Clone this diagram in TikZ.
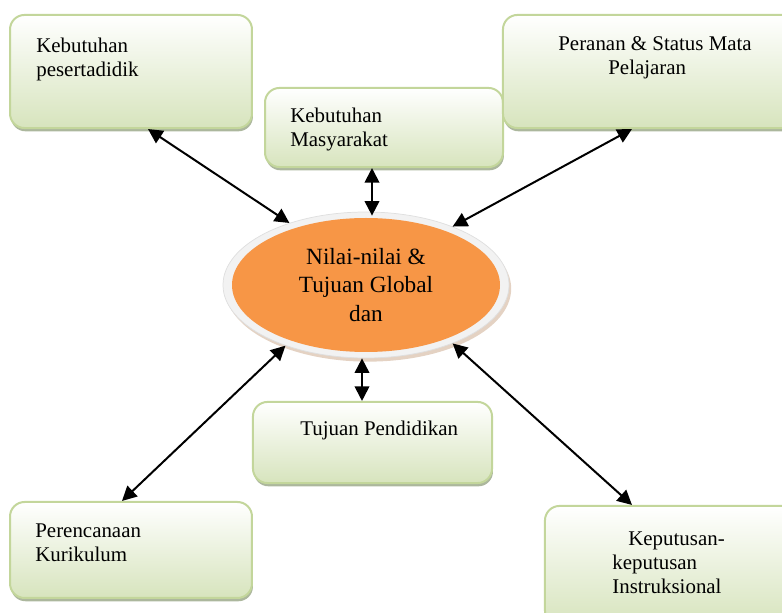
\documentclass[tikz,border=0pt]{standalone}
\usepackage{fontspec}
\setmainfont{Liberation Serif}
\usetikzlibrary{shapes.geometric}
\usetikzlibrary{shadows}
\usetikzlibrary{arrows.meta}

\definecolor{hijau}{HTML}{C3D69B}
\definecolor{hijaumuda}{HTML}{D7E4BD}
\definecolor{bayang}{HTML}{97A585}
\definecolor{oranye}{HTML}{F79646}
\definecolor{abu}{HTML}{F2F2F2}
\definecolor{coklat}{HTML}{C9A688}

\tikzset{
	kotak/.style={draw=hijau, line width=1.1pt, rounded corners=8pt, top color=white, bottom color=hijaumuda,
		drop shadow={fill=bayang, opacity=0.8, shadow xshift=0.5pt, shadow yshift=-1.8pt}, inner sep=0pt},
	teks/.style={font=\fontsize{11.5}{13.2}\selectfont, align=left, anchor=north west, inner sep=0pt},
	elips/.style={ellipse, minimum width=157.3pt, minimum height=80.3pt, fill=abu, draw=gray!25, line width=0.4pt,
		drop shadow={fill=coklat, shadow xshift=1.2pt, shadow yshift=-2pt},
		path picture={\fill[oranye] (path picture bounding box.center) ellipse (73.7pt and 36.85pt);},
		font=\fontsize{12.8}{15.7}\selectfont, align=center, inner sep=0pt},
	panah/.style={{Triangle[length=8pt,width=8pt]}-{Triangle[length=8pt,width=8pt]}, line width=1.1pt},
}

\begin{document}
\begin{tikzpicture}[x=0.55pt, y=-0.55pt]
		\useasboundingbox (0,0) rectangle (782,613);
		
		%KOTAK
		\node[kotak, minimum width=133.1pt, minimum height=62.2pt] (kp) at (131,71.5) {};
		\node[kotak, minimum width=130.9pt, minimum height=43.5pt] (km) at (384,127.5) {};
		\node[kotak, minimum width=163.4pt, minimum height=62.2pt] (pr) at (651.5,71.5) {};
		\node[kotak, minimum width=131.5pt, minimum height=44.6pt] (tp) at (372.5,442.5) {};
		\node[kotak, minimum width=133.1pt, minimum height=52.8pt] (pk) at (131,550) {};
		\node[kotak, minimum width=140.3pt, minimum height=65.5pt] (ki) at (672.5,565.5) {};
		
		%teks
		\node[teks] (kpt) at (36,38) {Kebutuhan\\pesertadidik};
		\node[teks] (kmt) at (290,108) {Kebutuhan\\Masyarakat};
		\node[teks] (prt) at (558,36) {Peranan \& Status Mata\\\hspace*{27.5pt}Pelajaran};
		\node[teks] (tpt) at (300,421) {Tujuan Pendidikan};
		\node[teks] (pkt) at (35,523) {Perencanaan\\Kurikulum};
		\node[teks] (kit) at (612,531) {\hspace*{8.8pt}Keputusan-\\keputusan\\Instruksional};
		
		%ELIPS
		\node[elips] (nilai) at (366,285) {Nilai-nilai \&\\Tujuan Global\\dan};
		
		%PANAH
		\draw[panah] ([shift={(17,0)}]kp.south) -- (nilai.141.6);
		\draw[panah] ([shift={(-12,0)}]km.south) -- ([shift={(6,4)}]nilai.north);
		\draw[panah] ([shift={(-19.5,0)}]pr.south) -- (nilai.34);
		\draw[panah] (nilai.217.9) -- ([shift={(-9,0)}]pk.north);
		\draw[panah] ([shift={(-4,0)}]nilai.south) -- ([shift={(-10.5,0)}]tp.north);
		\draw[panah] (nilai.326.8) -- ([shift={(-40.5,0)}]ki.north);
		
	\end{tikzpicture}
\end{document}
